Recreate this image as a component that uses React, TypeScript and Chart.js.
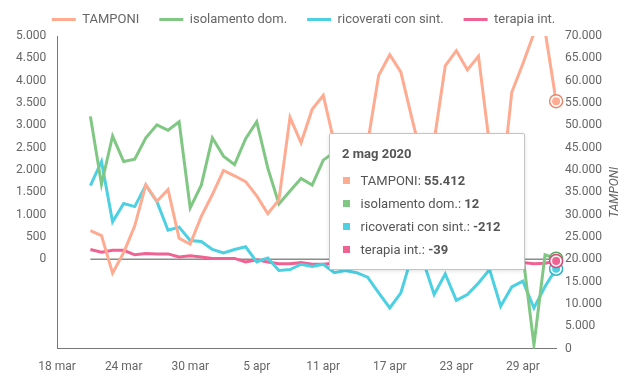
import React, { useEffect, useRef, useState } from 'react';
import { Chart, registerables } from 'chart.js';

Chart.register(...registerables);

// ---------- data ----------
const firstDay = '2020-03-21';
const xMinDate = '2020-03-18';
const xMaxDate = '2020-05-02';

const seriesLabels = ['TAMPONI', 'isolamento dom.', 'ricoverati con sint.', 'terapia int.'];

const tamponi = [
  26400, 25300, 16900, 21500, 27500, 36700, 33000, 35600, 24700, 23400,
  29600, 34500, 39900, 38700, 37400, 34200, 30200, 33300, 51800, 46100,
  53600, 56700, 46000, 36500, 27000, 46000, 61200, 65800, 61900, 51500,
  41500, 46500, 63300, 66700, 62400, 65500, 45500, 34000, 57400, 63800,
  70600, 71200, 55412,
];

const isolamento = [
  3200, 1680, 2760, 2190, 2240, 2720, 3010, 2890, 3080, 1150,
  1660, 2720, 2310, 2120, 2700, 3080, 2040, 1240, 1530, 1810,
  1660, 2220, 2400, 1950, 1600, 2100, 2300, 1700, 1200, 1600,
  1300, 900, 1350, 1000, 750, 500, 900, 300, 450, 100,
  -1920, 100, 12,
];

const ricoverati = [
  1650, 2190, 840, 1250, 1180, 1660, 1290, 650, 720, 420,
  400, 220, 140, 220, 280, -60, 30, -250, -230, -110,
  -160, -110, -300, -250, -300, -400, -750, -1090, -750, 80,
  -30, -790, -330, -920, -790, -530, -230, -1050, -620, -490,
  -1090, -610, -212,
];

const terapia = [
  220, 160, 200, 200, 100, 130, 120, 120, 50, 80,
  50, 20, 20, 20, -60, -10, -60, -100, -100, -75,
  -110, -110, -90, -80, -115, -105, -140, -100, -105, -40,
  -175, -125, -100, -100, -90, -70, -90, -55, -90, -70,
  -100, -90, -39,
];

const baselineValues = [0, 0];

const tickDates = ['2020-03-18', '2020-03-24', '2020-03-30', '2020-04-05', '2020-04-11', '2020-04-17', '2020-04-23', '2020-04-29'];
const tickLabels = ['18 mar', '24 mar', '30 mar', '5 apr', '11 apr', '17 apr', '23 apr', '29 apr'];

const leftMin = -2000;
const leftMax = 5000;
const leftStep = 500;
const rightMin = 0;
const rightMax = 70000;
const rightStep = 5000;
const rightTitle = 'TAMPONI';

const monthsIt = ['gen', 'feb', 'mar', 'apr', 'mag', 'giu', 'lug', 'ago', 'set', 'ott', 'nov', 'dic'];

// ---------- styles ----------
const colors = ['#FFAB91', '#81C784', '#4DD0E1', '#F06292'];
const ringColors = ['#E8876B', '#5FA863', '#2FB3C4', '#D8497A'];
const FONT = 'Roboto, "Noto Sans", sans-serif';

// ---------- helpers ----------
const DAY = 86400000;
const toDay = (s: string) => {
  const [y, m, d] = s.split('-').map(Number);
  return Date.UTC(y, m - 1, d) / DAY;
};
const originDay = toDay(xMinDate);
const xOf = (s: string) => toDay(s) - originDay;
const dateLabel = (x: number) => {
  const dt = new Date((x + originDay) * DAY);
  return `${dt.getUTCDate()} ${monthsIt[dt.getUTCMonth()]} ${dt.getUTCFullYear()}`;
};
const fmt = (n: number) => {
  const neg = n < 0;
  const s = Math.round(Math.abs(n)).toString().replace(/\B(?=(\d{3})+(?!\d))/g, '.');
  return (neg ? '-' : '') + s;
};
const toPoints = (arr: number[]) => arr.map((v, i) => ({ x: xOf(firstDay) + i, y: v }));

type Tip = { left: number; top: number; title: string; rows: { label: string; value: string; color: string }[] } | null;

const ringPlugin = {
  id: 'ringPlugin',
  afterDatasetsDraw(chart: any) {
    const act = [...chart.getActiveElements()].sort((a: any, b: any) => a.datasetIndex - b.datasetIndex);
    const ctx = chart.ctx;
    act.forEach((a: any) => {
      if (a.datasetIndex > 3) return;
      const { x, y } = a.element;
      ctx.save();
      ctx.beginPath();
      ctx.arc(x, y, 6.5, 0, Math.PI * 2);
      ctx.fillStyle = 'rgba(255,255,255,0.85)';
      ctx.fill();
      ctx.lineWidth = 1.5;
      ctx.strokeStyle = ringColors[a.datasetIndex];
      ctx.stroke();
      ctx.beginPath();
      ctx.arc(x, y, 4, 0, Math.PI * 2);
      ctx.fillStyle = colors[a.datasetIndex];
      ctx.fill();
      ctx.restore();
    });
  },
};

const rightTitlePlugin = {
  id: 'rightTitlePlugin',
  afterDraw(chart: any) {
    const s = chart.scales.y1;
    const ca = chart.chartArea;
    const ctx = chart.ctx;
    ctx.save();
    ctx.translate(s.right - 11, (ca.top + ca.bottom) / 2);
    ctx.rotate(-Math.PI / 2);
    ctx.font = `italic 12px ${FONT}`;
    ctx.fillStyle = '#666';
    ctx.textAlign = 'center';
    ctx.textBaseline = 'middle';
    ctx.fillText(rightTitle, 0, 0);
    ctx.restore();
  },
};

const legendShiftPlugin = {
  id: 'legendShiftPlugin',
  beforeDraw(chart: any) {
    if (chart.legend) chart.legend.right = chart.width - 36;
  },
};

export default function App() {
  const canvasRef = useRef<HTMLCanvasElement | null>(null);
  const [tip, setTip] = useState<Tip>(null);

  useEffect(() => {
    if (!canvasRef.current) return;
    Chart.defaults.font.family = FONT;
    Chart.defaults.color = '#666';

    const series = [tamponi, isolamento, ricoverati, terapia];
    const datasets: any[] = series.map((arr, i) => ({
      label: seriesLabels[i],
      data: toPoints(arr),
      yAxisID: i === 0 ? 'y1' : 'y',
      borderColor: colors[i],
      backgroundColor: colors[i],
      borderWidth: 3,
      pointRadius: 0,
      pointHoverRadius: 0,
      pointHitRadius: 4,
      tension: 0,
      fill: false,
    }));
    datasets.push({
      label: 'zero',
      data: [
        { x: xOf(firstDay), y: baselineValues[0] },
        { x: xOf(firstDay) + tamponi.length - 1, y: baselineValues[1] },
      ],
      yAxisID: 'y',
      borderColor: '#8c8c8c',
      borderWidth: 1.5,
      pointRadius: 0,
      pointHoverRadius: 0,
      fill: false,
    });

    const chart = new Chart(canvasRef.current, {
      type: 'line',
      data: { datasets },
      plugins: [ringPlugin, rightTitlePlugin, legendShiftPlugin],
      options: {
        animation: false,
        responsive: false,
        maintainAspectRatio: false,
        layout: { padding: { left: 13, right: 4, top: -7, bottom: 3 } },
        interaction: { mode: 'index', intersect: false },
        plugins: {
          legend: {
            position: 'top',
            labels: {
              boxWidth: 24,
              boxHeight: 3,
              padding: 20,
              color: '#666',
              font: { size: 13, family: FONT },
              generateLabels(c: any) {
                const items = (Chart.defaults.plugins.legend.labels as any).generateLabels(c);
                return items
                  .filter((it: any) => it.datasetIndex < 4)
                  .map((it: any) => ({ ...it, fillStyle: colors[it.datasetIndex], lineWidth: 0 }));
              },
            },
          },
          tooltip: {
            enabled: false,
            mode: 'index',
            intersect: false,
            filter: (item: any) => item.datasetIndex < 4,
            external: ({ chart: c, tooltip }: any) => {
              if (!tooltip || tooltip.opacity === 0 || !tooltip.dataPoints || !tooltip.dataPoints.length) {
                setTip(null);
                return;
              }
              const dps = tooltip.dataPoints;
              setTip({
                left: tooltip.caretX - 31 - 196,
                top: c.chartArea.top + 97,
                title: dateLabel(dps[0].parsed.x),
                rows: dps.map((d: any) => ({
                  label: d.dataset.label,
                  value: fmt(d.parsed.y),
                  color: colors[d.datasetIndex],
                })),
              });
            },
          },
        },
        scales: {
          x: {
            type: 'linear',
            min: xOf(xMinDate),
            max: xOf(xMaxDate),
            afterBuildTicks: (s: any) => {
              s.ticks = tickDates.map((d) => ({ value: xOf(d) }));
            },
            grid: { display: true, color: 'rgba(0,0,0,0)', drawOnChartArea: false, drawTicks: true, tickLength: 8 },
            border: { display: true, color: '#777', width: 1 },
            ticks: {
              color: '#666',
              font: { size: 12, family: FONT },
              padding: 3,
              maxRotation: 0,
              autoSkip: false,
              callback: (_v: any, idx: number) => tickLabels[idx] ?? '',
            },
          },
          y: {
            type: 'linear',
            position: 'left',
            min: leftMin,
            max: leftMax,
            grid: { display: true, color: 'rgba(0,0,0,0)', drawOnChartArea: false, drawTicks: true, tickLength: 8 },
            border: { display: true, color: '#777', width: 1 },
            ticks: {
              stepSize: leftStep,
              color: '#666',
              font: { size: 12, family: FONT },
              padding: 3,
              autoSkip: false,
              callback: (v: any) => (Number(v) < 0 ? '' : fmt(Number(v))),
            },
          },
          y1: {
            type: 'linear',
            position: 'right',
            min: rightMin,
            max: rightMax,
            afterFit: (s: any) => {
              s.width += 23;
            },
            grid: { display: true, color: 'rgba(0,0,0,0)', drawOnChartArea: false, drawTicks: true, tickLength: 8 },
            border: { display: false },
            ticks: {
              stepSize: rightStep,
              color: '#666',
              font: { size: 12, family: FONT },
              padding: 1,
              autoSkip: false,
              callback: (v: any) => fmt(Number(v)),
            },
          },
        },
      } as any,
    });

    const last = tamponi.length - 1;
    const actives = [0, 1, 2, 3].map((d) => ({ datasetIndex: d, index: last }));
    chart.setActiveElements(actives);
    const el = chart.getDatasetMeta(0).data[last] as any;
    chart.tooltip?.setActiveElements(actives, { x: el.x, y: el.y });
    chart.render();

    return () => {
      chart.destroy();
    };
  }, []);

  return (
    <div style={{ position: 'absolute', left: 0, top: 0, width: 630, height: 380, background: '#fff', overflow: 'hidden' }}>
      <canvas ref={canvasRef} width={630} height={380} style={{ width: 630, height: 380, display: 'block' }} />
      {tip && (
        <div
          style={{
            position: 'absolute',
            left: tip.left,
            top: tip.top,
            width: 196,
            boxSizing: 'border-box',
            background: '#fff',
            border: '1px solid #c4c4c4',
            borderRadius: 2,
            boxShadow: '0 1px 4px rgba(0,0,0,0.12)',
            padding: '9px 12px 8px 12px',
            fontFamily: FONT,
            fontSize: 13,
            color: '#555',
            pointerEvents: 'none',
            whiteSpace: 'nowrap',
          }}
        >
          <div style={{ fontWeight: 700, lineHeight: '22px', marginBottom: 4 }}>{tip.title}</div>
          {tip.rows.map((r) => (
            <div key={r.label} style={{ display: 'flex', alignItems: 'center', height: 23, lineHeight: '23px' }}>
              <span style={{ display: 'inline-block', width: 7, height: 7, background: r.color, marginLeft: 1, marginRight: 10.5 }} />
              <span>
                {r.label}: <b style={{ fontWeight: 700 }}>{r.value}</b>
              </span>
            </div>
          ))}
        </div>
      )}
    </div>
  );
}
